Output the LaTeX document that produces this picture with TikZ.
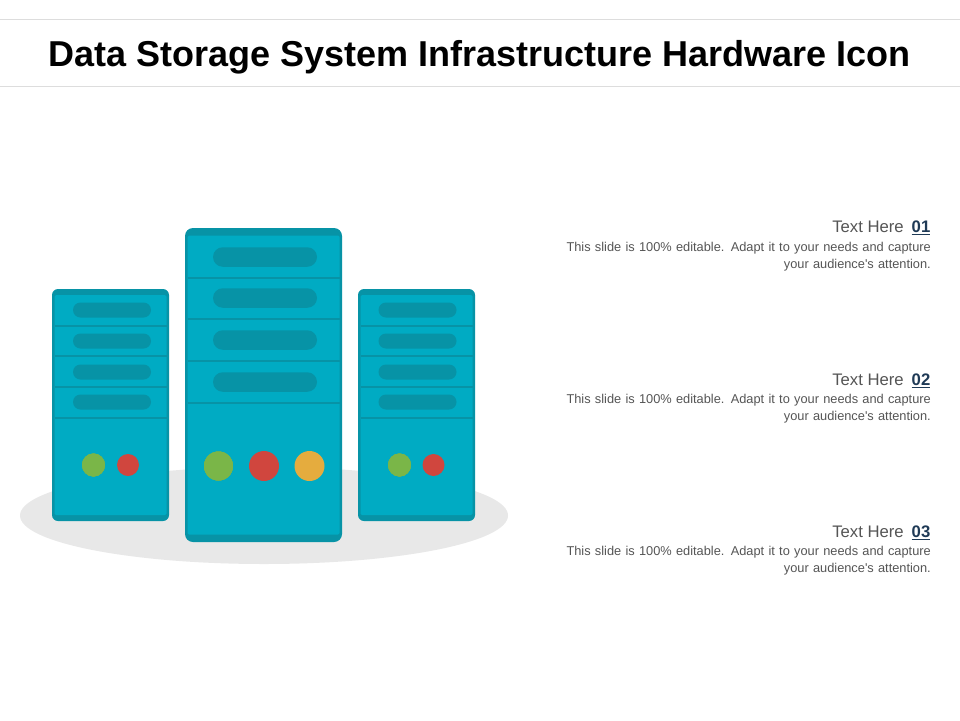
\documentclass[tikz,border=0pt]{standalone}
\usepackage{fontspec}
\setmainfont{Liberation Sans}
\newfontfamily\plainface{Liberation Sans}
\definecolor{bodyc}{HTML}{00ABC3}
\definecolor{darkc}{HTML}{0793A6}
\definecolor{greenc}{HTML}{7AB648}
\definecolor{redc}{HTML}{D0463E}
\definecolor{yellowc}{HTML}{E5AC3E}
\definecolor{shadowc}{HTML}{E8E8E8}
\definecolor{rulec}{HTML}{DDDDDD}
\definecolor{textc}{HTML}{555555}
\definecolor{numc}{HTML}{1F3A56}
\tikzset{
  x=1pt,y=-1pt,
  titletext/.style={font=\fontsize{36}{40}\selectfont\bfseries,text=black,inner sep=0,anchor=center},
  headtext/.style={font=\fontsize{16.7}{18}\selectfont,text=textc,inner sep=0,anchor=base east},
  bodytext/.style={font=\plainface\fontsize{12.8}{16.3}\selectfont,text=textc,inner sep=0,anchor=north east,align=right,text width=380pt},
  divider/.style={draw=darkc,line width=2pt},
  lamp/.style={circle,inner sep=0,minimum size=#1},
}
\newcommand{\serverbox}[6]{%
  \fill[darkc,rounded corners=#5] (#1,#2) rectangle (#3,#4);
  \fill[bodyc,rounded corners=1.5pt] (#1+2.5,#2+#6) rectangle (#3-2.5,#4-#6);
}
\newcommand{\slot}[4]{% cx, cy, half-width, height
  \fill[darkc,rounded corners=#4*0.5] (#1-#3,#2-#4/2) rectangle (#1+#3,#2+#4/2);
}
\begin{document}
\begin{tikzpicture}
\useasboundingbox (0,0) rectangle (960,720);
\fill[white] (0,0) rectangle (960,720);
\draw[rulec,line width=0.8pt] (0,19.5) -- (960,19.5);
\draw[rulec,line width=0.8pt] (0,86.5) -- (960,86.5);
\node[titletext] (title) at (479.5,57.5) {Data Storage System Infrastructure Hardware Icon};

\fill[shadowc] (264,515.5) ellipse [x radius=244,y radius=48.5];

% centre server
\serverbox{185}{228}{342}{542}{8}{7.5}
\foreach \y in {278,319,361,403} \draw[divider] (187.5,\y) -- (339.5,\y);
\foreach \y in {257,298,340,382} \slot{265}{\y}{52}{19.5}
\node[lamp=29pt,fill=greenc] (cg) at (218.5,466) {};
\node[lamp=30pt,fill=redc] (cr) at (264,466) {};
\node[lamp=30pt,fill=yellowc] (cy) at (309.5,466) {};

% left server
\serverbox{52}{289}{169}{521}{6}{6}
\foreach \y in {326,356,387,418} \draw[divider] (54.5,\y) -- (166.5,\y);
\foreach \y in {310,341,372,402} \slot{112}{\y}{39}{15}
\node[lamp=23pt,fill=greenc] (lg) at (93.5,465) {};
\node[lamp=22pt,fill=redc] (lr) at (128,465) {};

% right server
\serverbox{358}{289}{475}{521}{6}{6}
\foreach \y in {326,356,387,418} \draw[divider] (360.5,\y) -- (472.5,\y);
\foreach \y in {310,341,372,402} \slot{417.5}{\y}{39}{15}
\node[lamp=23pt,fill=greenc] (rg) at (399.5,465) {};
\node[lamp=22pt,fill=redc] (rr) at (433.5,465) {};

% texts
\node[headtext] (h1) at (930.5,232.5) {Text Here\hspace{8pt}\textbf{\textcolor{numc}{\underline{01}}}};
\node[bodytext] (b1) at (931,242.5) {This slide is 100\% editable. Adapt it to your needs and capture\\your audience's attention.};
\node[headtext] (h2) at (930.5,385.5) {Text Here\hspace{8pt}\textbf{\textcolor{numc}{\underline{02}}}};
\node[bodytext] (b2) at (931,394.5) {This slide is 100\% editable. Adapt it to your needs and capture\\your audience's attention.};
\node[headtext] (h3) at (930.5,537.5) {Text Here\hspace{8pt}\textbf{\textcolor{numc}{\underline{03}}}};
\node[bodytext] (b3) at (931,546.5) {This slide is 100\% editable. Adapt it to your needs and capture\\your audience's attention.};
\end{tikzpicture}
\end{document}
